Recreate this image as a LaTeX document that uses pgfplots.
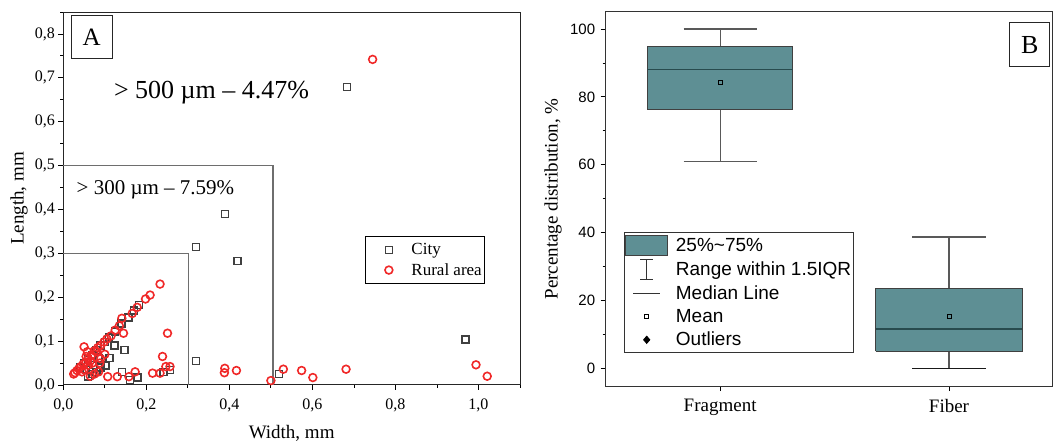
\documentclass[border=0pt]{standalone}
\usepackage{fontspec}
\setmainfont{Liberation Serif}
\newfontfamily\arial{Liberation Sans}
\usepackage{pgfplots}
\pgfplotsset{compat=1.18}
\definecolor{boxteal}{RGB}{94,143,148}
\definecolor{medteal}{RGB}{40,75,78}
\definecolor{cityc}{RGB}{64,64,64}
\definecolor{ruralc}{RGB}{240,40,40}
\definecolor{framegray}{RGB}{110,110,110}

\pgfplotsset{
  marklegend/.style={legend image code/.code={\path[draw=none,fill=none] (0pt,-4pt) rectangle (36pt,4pt); \draw[##1] plot coordinates {(22.6pt,0pt)};}},
}

\pgfplotstableread{
x y
0.683 0.679
0.390 0.389
0.319 0.315
0.420 0.283
0.320 0.055
0.969 0.104
0.519 0.025
0.183 0.182
0.170 0.170
0.157 0.154
0.140 0.140
0.125 0.122
0.110 0.108
0.100 0.098
0.090 0.090
0.080 0.080
0.070 0.068
0.060 0.058
0.050 0.050
0.040 0.040
0.123 0.090
0.147 0.080
0.111 0.061
0.102 0.044
0.090 0.040
0.080 0.030
0.070 0.025
0.060 0.019
0.142 0.030
0.160 0.011
0.179 0.017
0.257 0.034
0.241 0.030
0.085 0.060
0.072 0.045
0.055 0.035
}\citydata

\pgfplotstableread{
x y
0.745 0.742
0.681 0.036
0.574 0.033
0.601 0.017
0.530 0.036
0.500 0.010
0.417 0.033
0.389 0.038
0.388 0.028
0.994 0.046
1.021 0.020
0.233 0.230
0.209 0.205
0.198 0.196
0.178 0.177
0.166 0.163
0.141 0.152
0.135 0.135
0.125 0.125
0.145 0.118
0.115 0.112
0.105 0.105
0.098 0.098
0.090 0.090
0.083 0.085
0.075 0.078
0.068 0.068
0.060 0.060
0.055 0.052
0.048 0.048
0.042 0.042
0.038 0.038
0.033 0.033
0.028 0.028
0.025 0.025
0.251 0.118
0.239 0.065
0.257 0.042
0.247 0.042
0.233 0.027
0.215 0.027
0.173 0.030
0.158 0.019
0.130 0.019
0.107 0.019
0.050 0.087
0.058 0.076
0.080 0.076
0.090 0.060
0.088 0.050
0.070 0.050
0.060 0.045
0.045 0.030
0.050 0.035
0.065 0.020
0.075 0.025
0.085 0.030
0.100 0.070
0.055 0.065
0.065 0.055
}\ruraldata

\begin{document}
\begin{tikzpicture}
\path[use as bounding box] (0pt,0pt) rectangle (1055pt,442pt);

% ---------------- Panel A ----------------
\begin{axis}[
  at={(63.3pt,57pt)}, anchor=south west,
  scale only axis, width=456.7pt, height=373pt,
  xmin=0, xmax=1.1, ymin=0, ymax=0.85,
  clip=false,
  xtick={0,0.2,0.4,0.6,0.8,1.0},
  minor xtick={0.1,0.3,0.5,0.7,0.9,1.1},
  ytick={0,0.1,0.2,0.3,0.4,0.5,0.6,0.7,0.8},
  minor ytick={0.05,0.15,0.25,0.35,0.45,0.55,0.65,0.75,0.85},
  tick align=outside, tick pos=left,
  major tick length=5pt, minor tick length=3pt,
  tick style={line width=0.8pt, black},
  axis line style={line width=1pt, black!85},
  tick label style={font=\fontsize{16}{16}\selectfont,
    /pgf/number format/fixed, /pgf/number format/fixed zerofill,
    /pgf/number format/precision=1, /pgf/number format/use comma,
    /pgf/number format/assume math mode=true},
  xticklabel style={yshift=-5pt},
  xlabel={Width, mm}, ylabel={Length, mm},
  label style={font=\fontsize{19}{19}\selectfont},
  xlabel style={at={(axis description cs:0.5,-0.129)}, anchor=center},
  ylabel style={at={(axis description cs:-0.097,0.5)}, anchor=center},
  legend style={at={(rel axis cs:0.661,0.399)}, anchor=north west, draw=black, line width=1pt,
    inner xsep=0.6pt, inner ysep=5pt, font=\fontsize{17}{17}\selectfont,
    cells={anchor=west}, row sep=3pt, column sep=7.2pt},
]
\addplot[forget plot, framegray, line width=1.5pt, no marks] coordinates {(0,0.5) (0.505,0.5) (0.505,0)};
\addplot[forget plot, framegray, line width=1.5pt, no marks] coordinates {(0,0.3) (0.302,0.3) (0.302,0)};
\addplot[only marks, mark=square, mark size=3.5pt, cityc, mark options={line width=1.4pt}, marklegend]
  table[x=x,y=y] {\citydata};
\addlegendentry{City}
\addplot[only marks, mark=o, mark size=3.9pt, ruralc, mark options={line width=1.6pt}, marklegend]
  table[x=x,y=y] {\ruraldata};
\addlegendentry{Rural area}
\node[font=\fontsize{26}{26}\selectfont] at (axis cs:0.357,0.666) {\textgreater{} 500 µm – 4.47\%};
\node[font=\fontsize{21}{21}\selectfont] at (axis cs:0.222,0.446) {\textgreater{} 300 µm – 7.59\%};
\node[draw=black!85, line width=1pt, minimum width=41pt, minimum height=43pt, inner sep=0pt,
  font=\fontsize{25}{25}\selectfont] at (axis cs:0.068,0.792) {A};
\end{axis}

% ---------------- Panel B ----------------
\begin{axis}[
  at={(605.7pt,56pt)}, anchor=south west,
  scale only axis, width=446.3pt, height=374pt,
  xmin=0.5, xmax=2.45, ymin=-5.2, ymax=105,
  clip=false,
  xtick={1,2}, xticklabels={Fragment,Fiber},
  ytick={0,20,40,60,80,100},
  minor ytick={10,30,50,70,90},
  tick align=outside, tick pos=left,
  major tick length=5pt, minor tick length=3pt,
  tick style={line width=0.8pt, black},
  axis line style={line width=1pt, black!80},
  y tick label style={font=\arial\fontsize{15}{15}\selectfont, /pgf/number format/assume math mode=true, xshift=-2pt},
  x tick label style={font=\fontsize{19}{19}\selectfont, yshift=-5pt},
  ylabel={Percentage distribution, \%},
  label style={font=\fontsize{19}{19}\selectfont},
  ylabel style={at={(axis description cs:-0.118,0.5)}, anchor=center},
  legend style={at={(rel axis cs:0.041,0.4126)}, anchor=north west, draw=black!80, line width=1pt,
    inner xsep=0.7pt, inner ysep=2.5pt, font=\arial\fontsize{19}{19}\selectfont,
    cells={anchor=west}, row sep=3.3pt, column sep=5.7pt},
  whisk/.style={forget plot, no marks, draw=black!65, line width=1.1pt},
]
% Fragment: whiskers 61 / 100, quartiles 76.4 / 94.7, median 88, mean 84.3
\addplot[whisk] coordinates {(1,94.7) (1,100)};
\addplot[whisk] coordinates {(0.84,100) (1.16,100)};
\addplot[whisk] coordinates {(1,76.4) (1,61)};
\addplot[whisk] coordinates {(0.84,61) (1.16,61)};
\addplot[forget plot, no marks, fill=boxteal, draw=black!75, line width=1pt, line join=miter]
  coordinates {(0.682,76.4) (1.318,76.4) (1.318,94.7) (0.682,94.7) (0.682,76.4)};
\addplot[forget plot, no marks, draw=medteal, line width=1.2pt] coordinates {(0.682,88) (1.318,88)};
% Fiber: whiskers 0 / 38.7, quartiles 5.1 / 23.6, median 11.6, mean 15.4
\addplot[whisk] coordinates {(2,23.6) (2,38.7)};
\addplot[whisk] coordinates {(1.84,38.7) (2.16,38.7)};
\addplot[whisk] coordinates {(2,5.1) (2,0)};
\addplot[whisk, draw=black!90] coordinates {(1.84,0) (2.16,0)};
\addplot[forget plot, no marks, fill=boxteal, draw=black!75, line width=1pt, line join=miter]
  coordinates {(1.679,5.1) (2.321,5.1) (2.321,23.6) (1.679,23.6) (1.679,5.1)};
\addplot[forget plot, no marks, draw=medteal, line width=1.2pt] coordinates {(1.679,11.6) (2.321,11.6)};
% means
\addplot[forget plot, only marks, mark=square, mark size=2pt, black, mark options={line width=0.8pt}]
  coordinates {(1,84.3) (2,15.4)};

\addlegendimage{legend image code/.code={\path[draw=none,fill=none] (0pt,-10pt) rectangle (42pt,10pt);
  \draw[fill=boxteal, draw=black!75, line width=1pt] (0pt,-10pt) rectangle (42pt,10pt);}}
\addlegendentry{25\%\textasciitilde75\%}
\addlegendimage{legend image code/.code={\path[draw=none,fill=none] (0pt,-10pt) rectangle (42pt,10pt);
  \draw[black!80, line width=0.9pt] (21pt,-10pt)--(21pt,10pt) (14.5pt,10pt)--(27.5pt,10pt) (14.5pt,-10pt)--(27.5pt,-10pt);}}
\addlegendentry{Range within 1.5IQR}
\addlegendimage{legend image code/.code={\path[draw=none,fill=none] (0pt,-10pt) rectangle (42pt,10pt);
  \draw[black!80, line width=0.9pt] (7.5pt,0pt)--(34.5pt,0pt);}}
\addlegendentry{Median Line}
\addlegendimage{legend image code/.code={\path[draw=none,fill=none] (0pt,-10pt) rectangle (42pt,10pt);
  \draw[black, line width=0.8pt] (19pt,-2pt) rectangle (23pt,2pt);}}
\addlegendentry{Mean}
\addlegendimage{legend image code/.code={\path[draw=none,fill=none] (0pt,-10pt) rectangle (42pt,10pt);
  \fill[black] (21pt,-3.5pt) -- (24pt,0pt) -- (21pt,3.5pt) -- (18pt,0pt) -- cycle;}}
\addlegendentry{Outliers}

\node[draw=black!85, line width=1pt, minimum width=40pt, minimum height=44pt, inner sep=0pt,
  font=\fontsize{26}{26}\selectfont] at (axis cs:2.353,95.3) {B};
\end{axis}
\end{tikzpicture}
\end{document}
